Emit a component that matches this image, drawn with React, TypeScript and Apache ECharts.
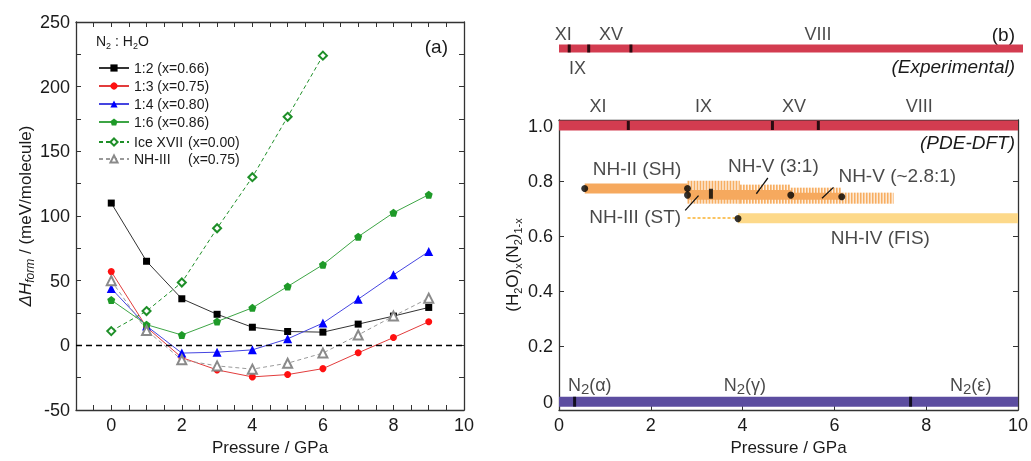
import React, { useEffect, useRef } from 'react';
import * as echarts from 'echarts';

const FONT = '"Liberation Sans", Arial, Helvetica, sans-serif';
const TXT = '#1a1a1a';
const AX = '#333';

// ---------- panel (a) data ----------
const pressures = [0, 1, 2, 3, 4, 5, 6, 7, 8, 9];
const dH_1to2 = [110, 65, 36, 24, 14, 10.7, 10.2, 16.4, 22.6, 29.3];
const dH_1to3 = [57, 14, -9.5, -19, -24.4, -22.6, -18, -5.8, 6, 18.2];
const dH_1to4 = [44, 15, -6, -5.3, -3.5, 5, 17.2, 35.7, 54.5, 72.5];
const dH_1to6 = [35, 16, 8, 18.4, 29, 45.5, 62.3, 84, 102.5, 116.5];
const icePressures = [0, 1, 2, 3, 4, 5, 6];
const dH_iceXVII = [11, 26.5, 48.6, 90.5, 130, 176.7, 224];
const dH_NHIII = [50, 11.5, -11.2, -15.9, -18.4, -13.8, -6, 8, 22.6, 36.5];
const namesA1 = ['1:2 (x=0.66)', '1:3 (x=0.75)', '1:4 (x=0.80)', '1:6 (x=0.86)'];
const namesA2 = ['Ice XVII|(x=0.00)', 'NH-III|(x=0.75)'];
const xTicksA = [0, 2, 4, 6, 8, 10];
const xMinorA = [-1, -0.5, 0, 0.5, 1, 1.5, 2, 2.5, 3, 3.5, 4, 4.5, 5, 5.5, 6, 6.5, 7, 7.5, 8, 8.5, 9, 9.5, 10];

// ---------- panel (b) data ----------
const pressureRange = [0, 10];
const expBoundaries = [0.22, 0.64, 1.55];
const expPhasesAbove: [string, number][] = [['XI', 0.09], ['XV', 1.12], ['VIII', 5.58]];
const expPhasesBelow: [string, number][] = [['IX', 0.4]];
const dftBoundaries = [1.51, 4.65, 5.65];
const dftPhases: [string, number][] = [['XI', 0.85], ['IX', 3.15], ['XV', 5.12], ['VIII', 7.85]];
const n2Boundaries = [0.34, 7.66];
const n2Phases: [string, number][] = [['α', 0.67], ['γ', 4.05], ['ε', 8.97]];
const yTicksB = [0, 0.2, 0.4, 0.6, 0.8, 1.0];

// hydrate bands: [p start, p end, x low, x high]
const solidBands = [
  [0.56, 2.8, 0.754, 0.79],
  [2.8, 5.05, 0.731, 0.767],
  [5.05, 6.16, 0.731, 0.757],
];
const hatchBands = [
  [2.8, 3.94, 0.717, 0.8],
  [3.94, 5.05, 0.717, 0.786],
  [5.05, 6.16, 0.717, 0.775],
  [6.16, 7.29, 0.717, 0.757],
];
const fisBand = [[3.9, 10, 0.646, 0.682]];
const fisMetastable = [[2.8, 0.665], [3.9, 0.665]];
const hydrateDots = [[0.56, 0.772], [2.8, 0.772], [2.8, 0.748], [5.05, 0.748], [6.16, 0.742], [3.9, 0.663]];
const hydrateTick = [[3.31, 0.753]];
const hydrateLabels: [number, number, string][] = [
  [1.7, 0.846, 'NH-II (SH)'],
  [4.67, 0.854, 'NH-V (3:1)'],
  [7.37, 0.818, 'NH-V (~2.8:1)'],
  [1.66, 0.669, 'NH-III (ST)'],
  [7.0, 0.593, 'NH-IV (FIS)'],
];
const leaderLines = [
  [2.75, 0.693, 3.04, 0.746],
  [4.3, 0.753, 4.55, 0.81],
  [5.73, 0.737, 5.98, 0.776],
];

const CRIMSON = '#D33C50';
const PURPLE = '#5C4DA0';
const ORANGE = '#F6A95E';
const HATCH = '#F7AE62';
const YELLOW = '#FDD98A';

const pairs = (xs: number[], ys: number[]) => xs.map((x, i) => [x, ys[i]]);

function bandRender(hatched: boolean, color: string) {
  return (params: any, api: any) => {
    const a = api.coord([api.value(0), api.value(3)]);
    const b = api.coord([api.value(1), api.value(2)]);
    const x = a[0], y = a[1], w = b[0] - a[0], h = b[1] - a[1];
    if (!hatched) {
      return { type: 'rect', shape: { x, y, width: w, height: h }, style: { fill: color } };
    }
    const children: any[] = [];
    for (let sx = x; sx < x + w - 0.5; sx += 3) {
      children.push({ type: 'rect', shape: { x: sx, y, width: Math.min(1.9, x + w - sx), height: h }, style: { fill: color } });
    }
    return { type: 'group', children };
  };
}

const lineA = (name: string, xs: number[], ys: number[], color: string, symbol: string, size: number, dashed = false, lineColor?: string) => ({
  type: 'line',
  name,
  xAxisIndex: 0,
  yAxisIndex: 0,
  data: pairs(xs, ys),
  symbol,
  symbolSize: size,
  z: 3,
  lineStyle: { color: lineColor || color, width: 1, type: dashed ? [4, 3] : 'solid' },
  itemStyle: { color },
});

const axisCommon = {
  axisLine: { show: true, onZero: false, lineStyle: { color: AX, width: 1.3 } },
  splitLine: { show: false },
};

const PENTAGON = 'path://M0,-10 L9.51,-3.09 L5.88,8.09 L-5.88,8.09 L-9.51,-3.09 Z';

const option: any = {
  animation: false,
  textStyle: { fontFamily: FONT, color: TXT },
  grid: [
    { left: 76, right: 567, top: 22, height: 388 },
    { left: 559, right: 8, top: 120, height: 290 },
    { left: 559, right: 8, top: 40, height: 17 },
  ],
  xAxis: [
    {
      gridIndex: 0, type: 'value', min: -1, max: 10, ...axisCommon,
      axisTick: { inside: true, length: 5, customValues: xMinorA, lineStyle: { color: AX } },
      axisLabel: { customValues: xTicksA, fontSize: 18, color: TXT, margin: 6, fontFamily: FONT },
      name: 'Pressure / GPa', nameLocation: 'middle', nameGap: 28,
      nameTextStyle: { fontSize: 17, color: TXT, fontFamily: FONT },
    },
    {
      gridIndex: 0, type: 'value', position: 'top', min: -1, max: 10, ...axisCommon,
      axisTick: { inside: true, length: 5, customValues: xMinorA, lineStyle: { color: AX } },
      axisLabel: { show: false },
    },
    {
      gridIndex: 1, type: 'value', min: 0, max: 10, interval: 2, ...axisCommon,
      axisTick: { inside: true, length: 5, lineStyle: { color: AX } },
      axisLabel: { fontSize: 18, color: TXT, margin: 6, fontFamily: FONT },
      name: 'Pressure / GPa', nameLocation: 'middle', nameGap: 28,
      nameTextStyle: { fontSize: 17, color: TXT, fontFamily: FONT },
    },
    {
      gridIndex: 1, type: 'value', position: 'top', min: 0, max: 10, ...axisCommon,
      axisTick: { show: false }, axisLabel: { show: false },
    },
    { gridIndex: 2, type: 'value', min: 0, max: 10, show: false },
  ],
  yAxis: [
    {
      gridIndex: 0, type: 'value', min: -50, max: 250, interval: 50, ...axisCommon,
      axisTick: { inside: true, length: 5, lineStyle: { color: AX } },
      minorTick: { show: true, splitNumber: 2, length: 5, lineStyle: { color: AX } },
      axisLabel: { fontSize: 18, color: TXT, margin: 6, fontFamily: FONT },
      name: '{i|ΔH}{s|form}{n| / (meV/molecule)}', nameLocation: 'middle', nameGap: 36,
      nameTextStyle: {
        fontFamily: FONT,
        rich: {
          i: { fontSize: 17, fontStyle: 'italic', color: TXT, fontFamily: FONT, lineHeight: 22 },
          s: { fontSize: 12, fontStyle: 'italic', color: TXT, fontFamily: FONT, verticalAlign: 'bottom', lineHeight: 14 },
          n: { fontSize: 17, color: TXT, fontFamily: FONT, lineHeight: 22 },
        },
      },
    },
    {
      gridIndex: 0, type: 'value', position: 'right', min: -50, max: 250, interval: 50, ...axisCommon,
      axisTick: { inside: true, length: 5, lineStyle: { color: AX } },
      minorTick: { show: true, splitNumber: 2, length: 5, lineStyle: { color: AX } },
      axisLabel: { show: false },
    },
    {
      gridIndex: 1, type: 'value', min: -0.03, max: 1.02, ...axisCommon,
      axisTick: { inside: true, length: 5, customValues: yTicksB, lineStyle: { color: AX } },
      axisLabel: {
        customValues: yTicksB, fontSize: 18, color: TXT, margin: 6, fontFamily: FONT,
        formatter: (v: number) => (v === 0 ? '0' : v.toFixed(1)),
      },
      name: '{n|(H}{s|2}{n|O)}{s|x}{n|(N}{s|2}{n|)}{s|1-x}', nameLocation: 'middle', nameGap: 36,
      nameTextStyle: {
        fontFamily: FONT,
        rich: {
          n: { fontSize: 17, color: TXT, fontFamily: FONT, lineHeight: 22 },
          s: { fontSize: 11, color: TXT, fontFamily: FONT, verticalAlign: 'bottom', lineHeight: 13 },
        },
      },
    },
    {
      gridIndex: 1, type: 'value', position: 'right', min: -0.03, max: 1.02, ...axisCommon,
      axisTick: { inside: true, length: 5, customValues: yTicksB, lineStyle: { color: AX } },
      axisLabel: { show: false },
    },
    { gridIndex: 2, type: 'value', min: 0, max: 1, show: false },
  ],
  legend: [
    {
      orient: 'vertical', left: 93, top: 56, itemWidth: 30, itemHeight: 9, itemGap: 4,
      data: namesA1,
      textStyle: { fontSize: 14, color: TXT, fontFamily: FONT },
      selectedMode: false,
    },
    {
      orient: 'vertical', left: 93, top: 130, itemWidth: 30, itemHeight: 9, itemGap: 3,
      data: namesA2,
      selectedMode: false,
      formatter: (n: string) => {
        const [a, b] = n.split('|');
        return `{a|${a}}{b|${b}}`;
      },
      textStyle: {
        fontSize: 14, color: TXT, fontFamily: FONT,
        rich: {
          a: { width: 54, fontSize: 14, color: TXT, fontFamily: FONT },
          b: { fontSize: 14, color: TXT, fontFamily: FONT },
        },
      },
    },
  ],
  graphic: [
    {
      type: 'text', left: 96, top: 34,
      style: {
        text: '{n|N}{s|2}{n| : H}{s|2}{n|O}',
        rich: {
          n: { fontSize: 14, fill: TXT, fontFamily: FONT, lineHeight: 18 },
          s: { fontSize: 9, fill: TXT, fontFamily: FONT, verticalAlign: 'bottom', lineHeight: 12 },
        },
      },
    },
    { type: 'text', x: 448, y: 46, style: { text: '(a)', fontSize: 19, fill: TXT, fontFamily: FONT, align: 'right', verticalAlign: 'middle' } },
    { type: 'text', x: 1015, y: 34, style: { text: '(b)', fontSize: 19, fill: TXT, fontFamily: FONT, align: 'right', verticalAlign: 'middle' } },
    { type: 'text', x: 1015, y: 66, style: { text: '(Experimental)', fontSize: 19, fontStyle: 'italic', fill: TXT, fontFamily: FONT, align: 'right', verticalAlign: 'middle' } },
    { type: 'text', x: 1015, y: 142, style: { text: '(PDE-DFT)', fontSize: 19, fontStyle: 'italic', fill: TXT, fontFamily: FONT, align: 'right', verticalAlign: 'middle' } },
  ],
  series: [
    // ---------- panel (a) ----------
    {
      ...lineA(namesA1[0], pressures, dH_1to2, '#000000', 'rect', 7, false, '#333'),
      markLine: {
        silent: true, symbol: ['none', 'none'], label: { show: false },
        lineStyle: { color: '#000', width: 1.3, type: [6, 4] },
        data: [{ yAxis: 0 }],
      },
    },
    lineA(namesA1[1], pressures, dH_1to3, '#FF1010', 'circle', 7, false, '#E23C3C'),
    lineA(namesA1[2], pressures, dH_1to4, '#0000FF', 'triangle', 9, false, '#4545E0'),
    lineA(namesA1[3], pressures, dH_1to6, '#1E9A28', PENTAGON, 8, false, '#3DA545'),
    lineA(namesA2[0], icePressures, dH_iceXVII, '#1E8F28', 'emptyDiamond', 8, true),
    lineA(namesA2[1], pressures, dH_NHIII, '#8A8A8A', 'emptyTriangle', 9, true, '#9A9A9A'),

    // ---------- panel (b): experimental strip ----------
    {
      type: 'line', xAxisIndex: 4, yAxisIndex: 4, data: pressureRange.map((p) => [p, 0.5]),
      symbol: 'none', clip: false, lineStyle: { color: CRIMSON, width: 8, cap: 'butt' }, z: 2,
    },
    {
      type: 'scatter', xAxisIndex: 4, yAxisIndex: 4, data: expBoundaries.map((p) => [p, 0.5]),
      symbol: 'rect', symbolSize: [3, 8], itemStyle: { color: '#000' }, z: 3,
    },
    {
      type: 'scatter', xAxisIndex: 4, yAxisIndex: 4, data: expPhasesAbove.map(([n, p]) => [p, 0.5, n]),
      symbolSize: 0, itemStyle: { color: 'transparent' }, z: 4,
      label: { show: true, position: 'top', distance: 6, formatter: (p: any) => p.data[2], fontSize: 18, color: TXT, fontFamily: FONT },
    },
    {
      type: 'scatter', xAxisIndex: 4, yAxisIndex: 4, data: expPhasesBelow.map(([n, p]) => [p, 0.5, n]),
      symbolSize: 0, itemStyle: { color: 'transparent' }, z: 4,
      label: { show: true, position: 'bottom', distance: 10, formatter: (p: any) => p.data[2], fontSize: 18, color: TXT, fontFamily: FONT },
    },

    // ---------- panel (b): hydrate bands ----------
    {
      type: 'custom', xAxisIndex: 2, yAxisIndex: 2, data: hatchBands, encode: { x: [0, 1], y: [2, 3] },
      renderItem: bandRender(true, HATCH), z: 2, clip: false,
    },
    {
      type: 'custom', xAxisIndex: 2, yAxisIndex: 2, data: solidBands, encode: { x: [0, 1], y: [2, 3] },
      renderItem: bandRender(false, ORANGE), z: 3, clip: false,
    },
    {
      type: 'custom', xAxisIndex: 2, yAxisIndex: 2, data: fisBand, encode: { x: [0, 1], y: [2, 3] },
      renderItem: bandRender(false, YELLOW), z: 3, clip: false,
    },
    {
      type: 'line', xAxisIndex: 2, yAxisIndex: 2, data: fisMetastable, symbol: 'none',
      lineStyle: { color: '#FBC461', width: 2, type: [3, 2] }, z: 3,
    },
    {
      type: 'custom', xAxisIndex: 2, yAxisIndex: 2, data: leaderLines, encode: { x: [0, 2], y: [1, 3] },
      renderItem: (params: any, api: any) => {
        const a = api.coord([api.value(0), api.value(1)]);
        const b = api.coord([api.value(2), api.value(3)]);
        return { type: 'line', shape: { x1: a[0], y1: a[1], x2: b[0], y2: b[1] }, style: { stroke: '#111', lineWidth: 1.3 } };
      },
      z: 5,
    },
    {
      type: 'scatter', xAxisIndex: 2, yAxisIndex: 2, data: hydrateDots,
      symbol: 'circle', symbolSize: 7, itemStyle: { color: '#000' }, z: 6,
    },
    {
      type: 'scatter', xAxisIndex: 2, yAxisIndex: 2, data: hydrateTick,
      symbol: 'rect', symbolSize: [4, 10], itemStyle: { color: '#000' }, z: 6,
    },
    {
      type: 'scatter', xAxisIndex: 2, yAxisIndex: 2, data: hydrateLabels,
      symbolSize: 1, itemStyle: { color: 'transparent' }, z: 7,
      label: { show: true, position: 'inside', formatter: (p: any) => p.data[2], fontSize: 19, color: TXT, fontFamily: FONT },
    },

    // ---------- panel (b): ice (x=1) and N2 (x=0) bars ----------
    {
      type: 'line', xAxisIndex: 2, yAxisIndex: 2, data: pressureRange.map((p) => [p, 1.0]),
      symbol: 'none', clip: false, lineStyle: { color: CRIMSON, width: 10, cap: 'butt' }, z: 4,
    },
    {
      type: 'scatter', xAxisIndex: 2, yAxisIndex: 2, data: dftBoundaries.map((p) => [p, 1.0]),
      symbol: 'rect', symbolSize: [3, 9], itemStyle: { color: '#000' }, z: 5,
    },
    {
      type: 'scatter', xAxisIndex: 2, yAxisIndex: 2, data: dftPhases.map(([n, p]) => [p, 1.0, n]),
      symbolSize: 0, itemStyle: { color: 'transparent' }, z: 5,
      label: { show: true, position: 'top', distance: 11, formatter: (p: any) => p.data[2], fontSize: 18, color: TXT, fontFamily: FONT },
    },
    {
      type: 'line', xAxisIndex: 2, yAxisIndex: 2, data: pressureRange.map((p) => [p, 0]),
      symbol: 'none', clip: false, lineStyle: { color: PURPLE, width: 10, cap: 'butt' }, z: 4,
    },
    {
      type: 'scatter', xAxisIndex: 2, yAxisIndex: 2, data: n2Boundaries.map((p) => [p, 0]),
      symbol: 'rect', symbolSize: [3, 10], itemStyle: { color: '#000' }, z: 5,
    },
    {
      type: 'scatter', xAxisIndex: 2, yAxisIndex: 2, data: n2Phases.map(([n, p]) => [p, 0, n]),
      symbolSize: 0, itemStyle: { color: 'transparent' }, z: 5,
      label: {
        show: true, position: 'top', distance: 6,
        formatter: (p: any) => `{a|N}{s|2}{a|(${p.data[2]})}`,
        rich: {
          a: { fontSize: 18, color: TXT, fontFamily: FONT, lineHeight: 22 },
          s: { fontSize: 15, color: TXT, fontFamily: FONT, verticalAlign: 'bottom', lineHeight: 18 },
        },
      },
    },
  ],
};

export default function App() {
  const ref = useRef<HTMLDivElement>(null);
  useEffect(() => {
    if (!ref.current) return;
    const chart = echarts.init(ref.current, undefined, { renderer: 'svg' });
    chart.setOption(option);
    return () => chart.dispose();
  }, []);
  return <div ref={ref} style={{ position: 'fixed', left: 0, top: 0, width: 1031, height: 461 }} />;
}
